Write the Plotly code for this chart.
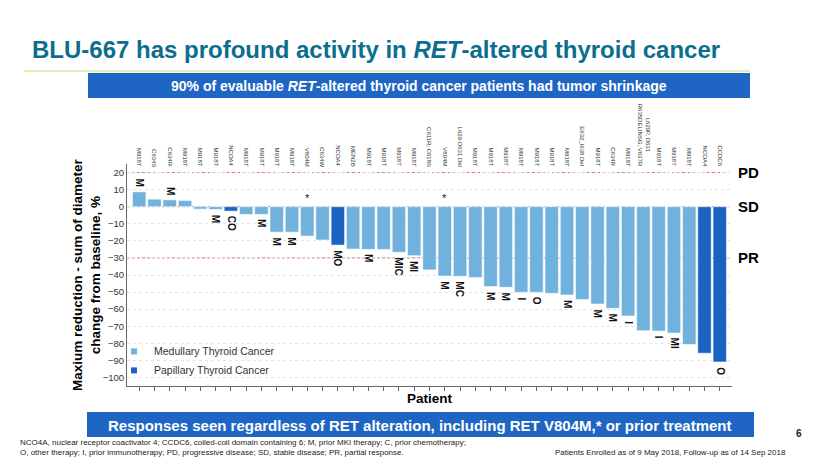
import plotly.graph_objects as go

# ---------------- data ----------------
mutations = [
    "M918T", "C634S", "C634R", "M918T", "M918T", "M918T", "NCOA4", "M918T",
    "M918T", "M918T", "M918T", "V804M", "C634W", "NCOA4", "MEN2B", "M918T",
    "M918T", "M918T", "M918T", "C611R, C618S", "V804M", "L629-D631 Del",
    "M918T", "M918T", "M918T", "M918T", "M918T", "M918T", "M918T",
    "E632_I638 Del", "M918T", "C634R", "M918T", "L629P, D631<br>R635DELINSG, V637R",
    "M918T", "M918T", "M918T", "NCOA4", "CCDC6",
]
values = [
    8.7, 4.4, 4.0, 3.6, -1.4, -1.6, -2.6, -4.5, -4.5, -14.9, -14.9, -17.2,
    -19.5, -22.5, -24.8, -25.0, -25.0, -26.7, -28.7, -37.0, -40.6, -40.8,
    -41.4, -46.8, -47.2, -50.1, -50.1, -50.7, -51.7, -54.4, -57.0, -59.5,
    -64.0, -72.6, -72.8, -74.0, -80.7, -85.8, -90.9,
]
histology = [
    "MTC", "MTC", "MTC", "MTC", "MTC", "MTC", "PTC", "MTC", "MTC", "MTC",
    "MTC", "MTC", "MTC", "PTC", "MTC", "MTC", "MTC", "MTC", "MTC", "MTC",
    "MTC", "MTC", "MTC", "MTC", "MTC", "MTC", "MTC", "MTC", "MTC", "MTC",
    "MTC", "MTC", "MTC", "MTC", "MTC", "MTC", "MTC", "PTC", "PTC",
]
therapy = [
    "M", "", "M", "", "", "M", "CO", "", "M", "M", "M", "", "", "MO", "",
    "M", "", "MIC", "MI", "", "M", "MC", "", "M", "M", "I", "O", "", "M",
    "", "M", "M", "I", "", "I", "MI", "", "", "O",
]
stars = ["", "", "", "", "", "", "", "", "", "", "", "*", "", "", "", "", "",
         "", "", "", "*", "", "", "", "", "", "", "", "", "", "", "", "", "",
         "", "", "", "", ""]
hist_names = {"MTC": "Medullary Thyroid Cancer", "PTC": "Papillary Thyroid Cancer"}
ref_lines = [20, 0, -30]
ref_names = ["PD", "SD", "PR"]
y_ticks = [20, 10, 0, -10, -20, -30, -40, -50, -60, -70, -80, -90, -100]

# ---------------- style ----------------
OFF = 8                      # page body margin of the html page
W, H = 830 - OFF, 467 - OFF
L, R, T, B = 127, 732, 164, 386   # plot area in screen pixels
COL = {"MTC": "#70b1dd", "PTC": "#1b62c2"}
FONT = "Liberation Sans, Arial, sans-serif"
BANNER = "#1f66c4"


def ppx(x):
    return (x - L) / (R - L)


def ppy(y):
    return (B - y) / (B - T)


fig = go.Figure()
idx = list(range(len(values)))
for h in ["MTC", "PTC"]:
    xs = [i for i in idx if histology[i] == h]
    fig.add_trace(go.Bar(
        x=xs, y=[values[i] for i in xs], width=0.88,
        marker=dict(color=COL[h], line=dict(color="rgba(255,255,255,0.7)", width=0.8)),
        showlegend=False, hoverinfo="x+y",
    ))
for h in ["MTC", "PTC"]:
    fig.add_trace(go.Scatter(
        x=[None], y=[None], mode="markers", name=hist_names[h],
        marker=dict(symbol="square", size=6, color=COL[h]),
    ))

ann = []
for i, m in enumerate(mutations):
    ann.append(dict(x=i, y=22.3, xref="x", yref="y", text=m, textangle=90,
                    showarrow=False, xanchor="center", yanchor="bottom",
                    font=dict(family=FONT, size=6, color="#333")))
for i, t in enumerate(therapy):
    if not t:
        continue
    v = values[i]
    ann.append(dict(x=i, y=v, xref="x", yref="y", text="<b>%s</b>" % t, textangle=90,
                    showarrow=False, xanchor="center",
                    yanchor="bottom" if v > 0 else "top",
                    yshift=3 if v > 0 else -3,
                    font=dict(family=FONT, size=10, color="#111")))
for i, s in enumerate(stars):
    if s:
        ann.append(dict(x=i, y=0, xref="x", yref="y", text=s, showarrow=False,
                        yanchor="bottom", yshift=1,
                        font=dict(family=FONT, size=11, color="#111")))
for v, n in zip(ref_lines, ref_names):
    ann.append(dict(x=ppx(748), y=v, xref="paper", yref="y", text="<b>%s</b>" % n,
                    showarrow=False, xanchor="center", yanchor="middle",
                    font=dict(family=FONT, size=15, color="#000")))
ann.append(dict(x=ppx(86), y=ppy(275), xref="paper", yref="paper",
                text="<b>Maxium reduction - sum of diameter<br>change from baseline, %</b>",
                textangle=-90, showarrow=False, xanchor="center", yanchor="middle",
                font=dict(family=FONT, size=13.5, color="#000")))
ann.append(dict(x=ppx(430), y=ppy(398), xref="paper", yref="paper", text="<b>Patient</b>",
                showarrow=False, xanchor="center", yanchor="middle",
                font=dict(family=FONT, size=13.5, color="#000")))
ann.append(dict(x=ppx(30), y=ppy(50), xref="paper", yref="paper",
                text="<b>BLU-667 has profound activity in <i>RET</i>-altered thyroid cancer</b>",
                showarrow=False, xanchor="left", yanchor="middle",
                font=dict(family=FONT, size=24, color="#0b6e8e")))
ann.append(dict(x=ppx(419), y=ppy(86), xref="paper", yref="paper",
                text="<b>90% of evaluable <i>RET</i>-altered thyroid cancer patients had tumor shrinkage</b>",
                showarrow=False, xanchor="center", yanchor="middle",
                font=dict(family=FONT, size=14, color="#fff")))
ann.append(dict(x=ppx(420), y=ppy(425), xref="paper", yref="paper",
                text="<b>Responses seen regardless of RET alteration, including RET V804M,* or prior treatment</b>",
                showarrow=False, xanchor="center", yanchor="middle",
                font=dict(family=FONT, size=15, color="#fff")))
ann.append(dict(x=ppx(18), y=ppy(447), xref="paper", yref="paper",
                text="NCO4A, nuclear receptor coactivator 4; CCDC6, coiled-coil domain containing 6; M, prior MKI therapy; C, prior chemotherapy;<br>"
                     "O, other therapy; I, prior immunotherapy; PD, progressive disease; SD, stable disease; PR, partial response.",
                showarrow=False, xanchor="left", yanchor="middle", align="left",
                font=dict(family=FONT, size=8, color="#222")))
ann.append(dict(x=ppx(788), y=ppy(452), xref="paper", yref="paper",
                text="Patients Enrolled as of 9 May 2018, Follow-up as of 14 Sep 2018",
                showarrow=False, xanchor="right", yanchor="middle",
                font=dict(family=FONT, size=8, color="#222")))
ann.append(dict(x=ppx(799), y=ppy(433), xref="paper", yref="paper", text="<b>6</b>",
                showarrow=False, xanchor="center", yanchor="middle",
                font=dict(family=FONT, size=10, color="#222")))

shapes = []
for v in ref_lines:
    shapes.append(dict(type="line", xref="paper", yref="y", x0=0, x1=1, y0=v, y1=v,
                       layer="between", line=dict(color="#d9728a", width=1, dash="3px,2px")))
shapes.append(dict(type="rect", xref="paper", yref="paper", x0=ppx(88), x1=ppx(750),
                   y0=ppy(98), y1=ppy(73), fillcolor=BANNER, line=dict(width=0), layer="below"))
shapes.append(dict(type="rect", xref="paper", yref="paper", x0=ppx(87), x1=ppx(754),
                   y0=ppy(437), y1=ppy(412), fillcolor=BANNER, line=dict(width=0), layer="below"))
shapes.append(dict(type="line", xref="paper", yref="paper", x0=ppx(24), x1=ppx(750),
                   y0=ppy(71), y1=ppy(71), line=dict(color="#d6e89a", width=1.5)))

fig.update_layout(
    width=W, height=H,
    margin=dict(l=L - OFF, r=W - (R - OFF), t=T - OFF, b=H - (B - OFF)),
    paper_bgcolor="white", plot_bgcolor="white",
    barmode="overlay",
    font=dict(family=FONT, color="#333"),
    annotations=ann, shapes=shapes,
    legend=dict(x=-0.0215, y=0.005, xanchor="left", yanchor="bottom",
                bgcolor="rgba(0,0,0,0)", font=dict(family=FONT, size=10.5, color="#333"),
                tracegroupgap=0, itemwidth=30),
    xaxis=dict(range=[-0.8, len(values) - 0.2], tickvals=idx, showticklabels=False,
               ticks="outside", ticklen=4, tickcolor="#666", showgrid=False,
               showline=True, linecolor="#666", linewidth=1, zeroline=False, fixedrange=True),
    yaxis=dict(range=[-105, 25], tickvals=y_ticks, ticks="", showgrid=True,
               gridcolor="#e4e4e4", griddash="dot", gridwidth=1,
               showline=True, linecolor="#666", linewidth=1, zeroline=False,
               tickfont=dict(family=FONT, size=9.5, color="#333"), fixedrange=True),
)

fig.write_html("out.html")
